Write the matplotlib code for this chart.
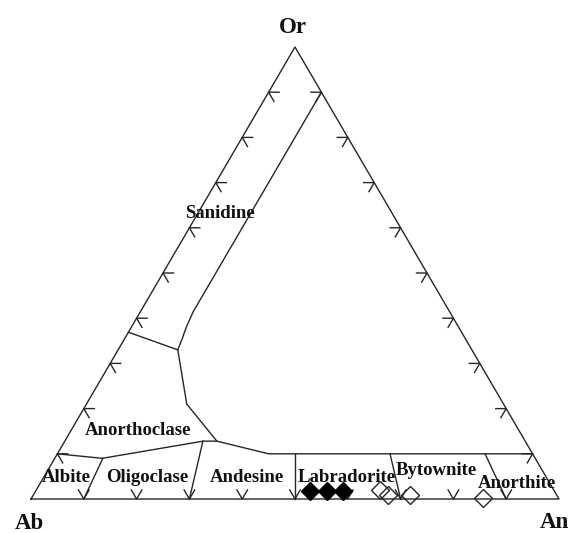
import numpy as np
import matplotlib
matplotlib.use("Agg")
import matplotlib.pyplot as plt

# feldspar compositions as (An, Or) fractions
filled_an = [0.519, 0.552, 0.582]
filled_or = [0.018, 0.018, 0.018]
open_an = [0.651, 0.672, 0.714, 0.855]
open_or = [0.020, 0.009, 0.009, 0.002]

# field boundaries, (An, Or)
upper_plag = [(0.0, 0.10), (0.09, 0.09), (0.262, 0.128), (0.288, 0.128), (0.40, 0.10), (0.90, 0.10)]
anortho_curve = [(0.0, 0.369), (0.113, 0.33), (0.19, 0.21), (0.288, 0.128)]
sanidine_edge = [(0.113, 0.33), (0.109, 0.355), (0.104, 0.38), (0.10, 0.415), (0.10, 0.90)]
plag_ratios = [0.1, 0.3, 0.5, 0.7, 0.9]
ratio_tops = [0.09, 0.128, 0.10, 0.10, 0.10]

field_names = ["Sanidine", "Anorthoclase", "Albite", "Oligoclase", "Andesine",
               "Labradorite", "Bytownite", "Anorthite"]

H = 452 / 528  # triangle height relative to base (as in the picture)


def tern(an, orr):
    an = np.asarray(an, dtype=float)
    orr = np.asarray(orr, dtype=float)
    return an + orr / 2, orr * H


def px(x, y):
    # picture pixel -> data coords
    return (x - 31) / 528, (499 - y) / 528


fig = plt.figure(figsize=(5.72, 5.33), dpi=100)
ax = fig.add_axes([0, 0, 1, 1])
ax.set_xlim(-31 / 528, (572 - 31) / 528)
ax.set_ylim((499 - 533) / 528, 499 / 528)
ax.axis("off")

lc = "#262626"
lw = 1.0

# outer triangle
tx, ty = tern([0, 1, 0, 0], [0, 0, 1, 0])
ax.plot(tx, ty, color=lc, lw=lw)

# boundaries
for pts in [upper_plag, anortho_curve, sanidine_edge]:
    a, o = zip(*pts)
    x, y = tern(a, o)
    ax.plot(x, y, color=lc, lw=lw)

for r, top in zip(plag_ratios, ratio_tops):
    x, y = tern([r, r * (1 - top)], [0, top])
    ax.plot(x, y, color=lc, lw=lw)

# arrow-like ticks every 10%
L = 10.5 / 528
d_right = np.array([0.5, -H]) / np.hypot(0.5, H)
d_left = np.array([-0.5, -H]) / np.hypot(0.5, H)
for k in range(1, 10):
    f = k / 10
    # left edge (Ab-Or)
    x0, y0 = tern(0, f)
    ax.plot([x0 + L, x0, x0 + L * d_right[0]], [y0, y0, y0 + L * d_right[1]], color=lc, lw=lw)
    # right edge (An-Or)
    x0, y0 = tern(1 - f, f)
    ax.plot([x0 - L, x0, x0 + L * d_left[0]], [y0, y0, y0 + L * d_left[1]], color=lc, lw=lw)
    # base (Ab-An)
    x0, y0 = tern(f, 0)
    ax.plot([x0 - L * d_right[0], x0, x0 - L * d_left[0]],
            [y0 - L * d_right[1], y0, y0 - L * d_left[1]], color=lc, lw=lw)

# samples
x, y = tern(filled_an, filled_or)
ax.plot(x, y, "D", ms=9.5, color="black", mec="black", zorder=5)
x, y = tern(open_an, open_or)
ax.plot(x, y, "D", ms=9.5, mfc="none", mec=lc, mew=1.0, zorder=5)

font = dict(family="Liberation Serif", weight="bold", color="#111111")

for name, (x, y) in zip(["Or", "Ab", "An"], [(293, 33), (29, 529), (554, 528)]):
    ax.text(*px(x, y), name, ha="center", va="baseline", fontsize=16.5, **font)

label_pos = [(220, 218), (138, 435), (66, 482), (147, 482), (247, 482),
             (347, 482), (436, 475), (517, 488)]
for name, (x, y) in zip(field_names, label_pos):
    ax.text(*px(x, y), name, ha="center", va="baseline", fontsize=13.5, zorder=4, **font)

fig.savefig("out.png", dpi=100, facecolor="white")
